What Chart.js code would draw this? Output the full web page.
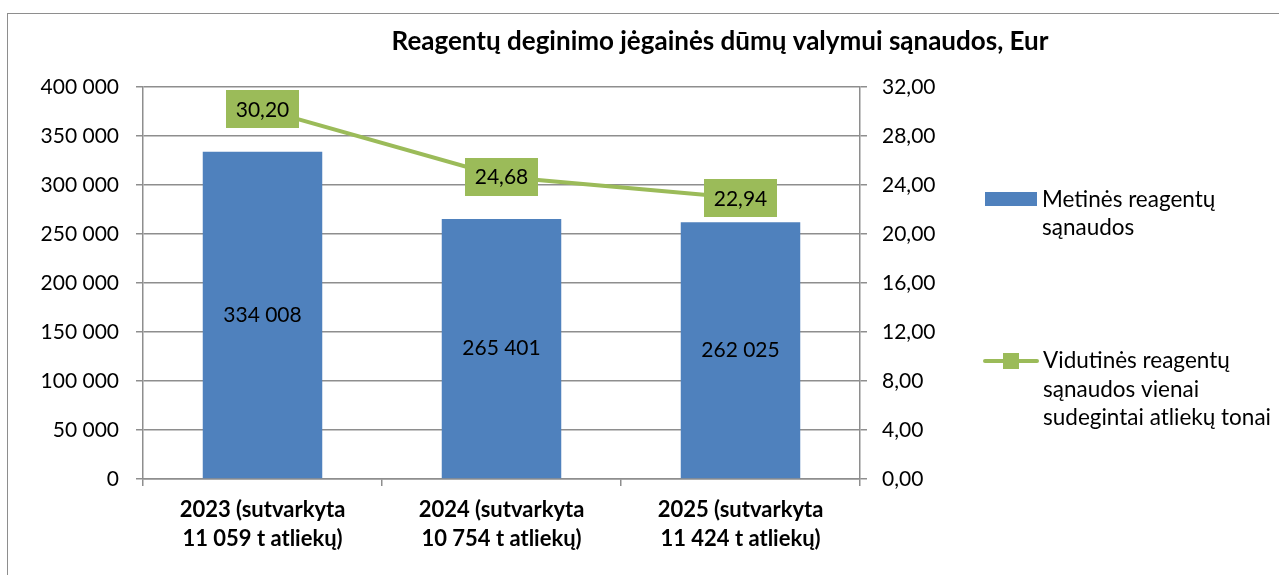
<!DOCTYPE html>
<html>
<head>
<meta charset="utf-8">
<script src="https://cdn.jsdelivr.net/npm/chart.js@4.4.1/dist/chart.umd.min.js"></script>
<style>
  html, body { margin: 0; padding: 0; background: #fff; }
  #wrap { width: 1279px; height: 575px; position: relative; }
</style>
</head>
<body>
<div id="wrap"><canvas id="chart" width="1279" height="575"></canvas></div>
<script>
// chart data
const chartTitle = 'Reagentų deginimo jėgainės dūmų valymui sąnaudos, Eur';
const categories = [
  ['2023 (sutvarkyta', '11 059 t atliekų)'],
  ['2024 (sutvarkyta', '10 754 t atliekų)'],
  ['2025 (sutvarkyta', '11 424 t atliekų)']
];
const barLabel = ['Metinės reagentų', 'sąnaudos'];
const lineLabel = ['Vidutinės reagentų', 'sąnaudos vienai', 'sudegintai atliekų tonai'];
const annualCosts = [334008, 265401, 262025];
const costPerTonne = [30.20, 24.68, 22.94];

const BLUE = '#4f81bd';
const GREEN = '#9bbb59';
const GRID = '#8e8e8e';
const FONT = 'Lato, "Open Sans", sans-serif';

const fmtInt = v => String(Math.round(v)).replace(/\B(?=(\d{3})+(?!\d))/g, ' ');
const fmtDec = v => v.toFixed(2).replace('.', ',');

// labels, legend, title and frame drawn by hand
const decor = {
  id: 'decor',
  afterDatasetsDraw(chart) {
    const ctx = chart.ctx;
    ctx.save();
    ctx.font = '21px ' + FONT;
    ctx.textAlign = 'center';
    ctx.textBaseline = 'middle';
    ctx.fillStyle = '#000';
    // bar values in the middle of the bars (dataset 1)
    chart.getDatasetMeta(1).data.forEach((bar, i) => {
      ctx.fillText(fmtInt(annualCosts[i]), bar.x, (bar.y + bar.base) / 2);
    });
    // line values in green boxes centred on the points (dataset 0)
    chart.getDatasetMeta(0).data.forEach((pt, i) => {
      const txt = fmtDec(costPerTonne[i]);
      const w = ctx.measureText(txt).width + 20;
      const h = 38;
      ctx.fillStyle = GREEN;
      ctx.fillRect(Math.round(pt.x - w / 2), Math.round(pt.y - h / 2), Math.round(w), h);
      ctx.fillStyle = '#000';
      ctx.fillText(txt, pt.x, pt.y + 1);
    });
    ctx.restore();
  },
  afterDraw(chart) {
    const ctx = chart.ctx;
    ctx.save();
    // outer frame
    ctx.strokeStyle = '#8e8e8e';
    ctx.lineWidth = 1;
    ctx.strokeRect(7.5, 13.5, 1300, 600);
    // title
    ctx.font = 'bold 26px ' + FONT;
    ctx.fillStyle = '#000';
    ctx.textAlign = 'center';
    ctx.textBaseline = 'middle';
    ctx.fillText(chartTitle, 720, 42);
    // legend
    ctx.font = '22.5px ' + FONT;
    ctx.textAlign = 'left';
    ctx.fillStyle = BLUE;
    ctx.fillRect(985, 192, 52, 14);
    ctx.fillStyle = '#000';
    barLabel.forEach((t, i) => ctx.fillText(t, 1042, 200 + i * 28));
    ctx.strokeStyle = GREEN;
    ctx.lineWidth = 4;
    ctx.lineCap = 'round';
    ctx.beginPath();
    ctx.moveTo(985, 361);
    ctx.lineTo(1037, 361);
    ctx.stroke();
    ctx.fillStyle = GREEN;
    ctx.fillRect(1003, 353, 16, 16);
    ctx.fillStyle = '#000';
    lineLabel.forEach((t, i) => ctx.fillText(t, 1043, 361 + i * 28.5));
    ctx.restore();
  }
};

new Chart(document.getElementById('chart'), {
  data: {
    labels: categories,
    datasets: [
      {
        type: 'line',
        label: lineLabel.join(' '),
        data: costPerTonne,
        yAxisID: 'y1',
        borderColor: GREEN,
        backgroundColor: GREEN,
        borderWidth: 4,
        pointStyle: 'rect',
        pointRadius: 7,
        tension: 0,
        order: 0
      },
      {
        type: 'bar',
        label: barLabel.join(' '),
        data: annualCosts,
        yAxisID: 'y',
        backgroundColor: BLUE,
        barPercentage: 0.5,
        categoryPercentage: 1,
        order: 1
      }
    ]
  },
  options: {
    responsive: false,
    animation: false,
    layout: { padding: { top: 87, left: 0, right: 0, bottom: 0 } },
    plugins: { legend: { display: false }, tooltip: { enabled: false } },
    scales: {
      x: {
        offset: true,
        grid: { offset: true, drawOnChartArea: false, color: GRID, lineWidth: 1.5, tickLength: 7 },
        border: { color: GRID, width: 1.5 },
        ticks: { color: '#000', font: { family: FONT, size: 22, weight: 'bold', lineHeight: 1.3 }, padding: 10, maxRotation: 0 },
        afterFit(s) { s.height = 96; }
      },
      y: {
        position: 'left',
        min: 0, max: 400000,
        ticks: { stepSize: 50000, color: '#000', font: { family: FONT, size: 21 }, padding: 17, callback: v => fmtInt(v) },
        grid: { color: GRID, lineWidth: 1.5, tickLength: 7 },
        border: { color: GRID, width: 1.5 },
        afterFit(s) { s.width = 143; }
      },
      y1: {
        position: 'right',
        min: 0, max: 32,
        ticks: { stepSize: 4, color: '#000', font: { family: FONT, size: 21 }, padding: 15, callback: v => fmtDec(v) },
        grid: { drawOnChartArea: false, color: GRID, lineWidth: 1.5, tickLength: 7 },
        border: { color: GRID, width: 1.5 },
        afterFit(s) { s.width = 419; }
      }
    }
  },
  plugins: [decor]
});
</script>
</body>
</html>
